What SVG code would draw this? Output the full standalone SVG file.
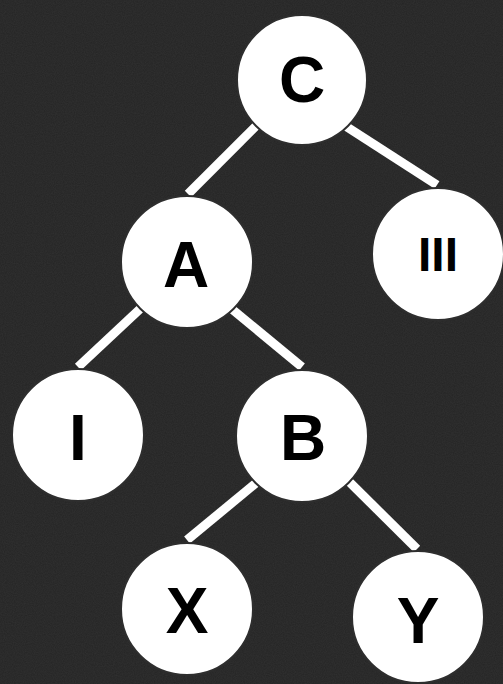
<svg xmlns="http://www.w3.org/2000/svg" width="503" height="684" viewBox="0 0 503 684">
<style>
.edge{stroke:#ffffff;stroke-width:9;stroke-linecap:butt;fill:none}
.node circle{fill:#ffffff;stroke:#2e2e2e;stroke-width:2}
.node text{font-family:"Liberation Sans",Arial,sans-serif;font-weight:bold;font-size:64px;fill:#000000;text-anchor:middle}
</style>
<defs>
<filter id="grain" x="0" y="0" width="100%" height="100%">
<feTurbulence type="fractalNoise" baseFrequency="0.9" numOctaves="2" seed="3"/>
<feColorMatrix type="matrix" values="0 0 0 0 1  0 0 0 0 1  0 0 0 0 1  0 0 0 0.06 0"/>
</filter>
</defs>
<rect x="0" y="0" width="503" height="684" fill="#242424"/>
<rect x="0" y="0" width="503" height="684" filter="url(#grain)"/>
<g id="connectors">
<line class="edge" x1="302" y1="80" x2="188" y2="194"/>
<line class="edge" x1="302" y1="98" x2="437" y2="185"/>
<line class="edge" x1="187" y1="265" x2="78" y2="367"/>
<line class="edge" x1="187" y1="272" x2="302" y2="367"/>
<line class="edge" x1="302" y1="445" x2="187" y2="540"/>
<line class="edge" x1="302" y1="435" x2="417" y2="549"/>
</g>
<g id="node-C" class="node"><circle cx="302" cy="80" r="65"/><text x="302" y="102">C</text></g>
<g id="node-A" class="node"><circle cx="187" cy="262" r="66"/><text x="186" y="287">A</text></g>
<g id="node-III" class="node"><circle cx="438" cy="254" r="66"/><text x="438" y="271" style="font-size:48px">III</text></g>
<g id="node-I" class="node"><circle cx="78" cy="435" r="66"/><text x="78" y="460">I</text></g>
<g id="node-B" class="node"><circle cx="302" cy="436" r="66"/><text x="303" y="460">B</text></g>
<g id="node-X" class="node"><circle cx="187" cy="609" r="66"/><text x="187" y="633">X</text></g>
<g id="node-Y" class="node"><circle cx="418" cy="617" r="66"/><text x="418" y="643">Y</text></g>
</svg>
